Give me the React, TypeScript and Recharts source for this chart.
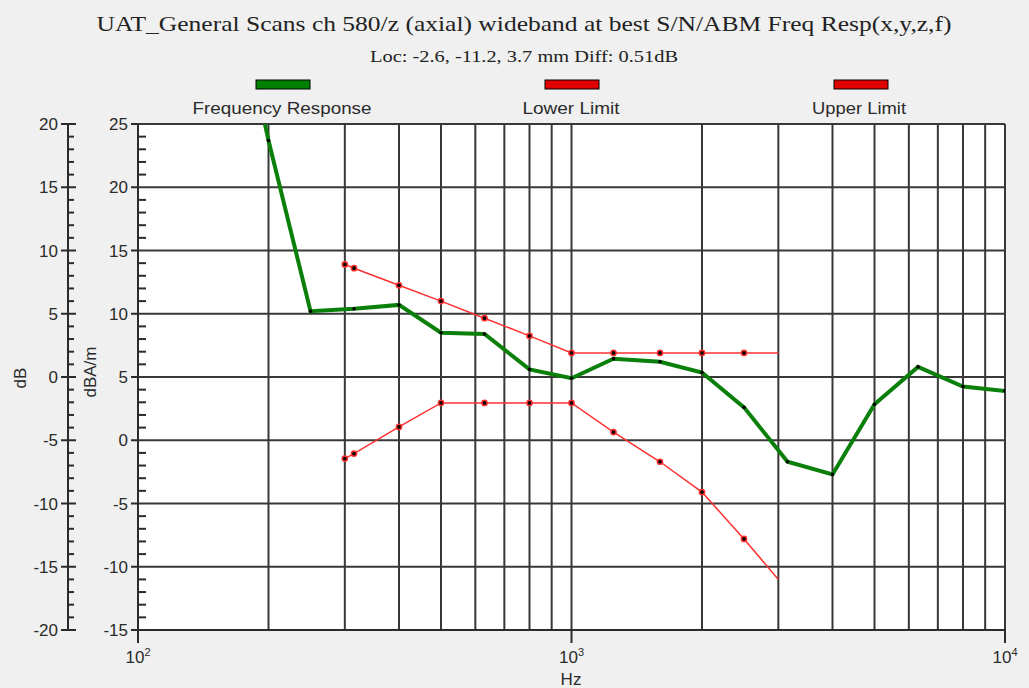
import React from 'react';
import { LineChart, Line, XAxis, YAxis, CartesianGrid, ReferenceLine } from 'recharts';

// frequency response (dBA/m) at 1/3 octave points
const responseFreqs = [160, 200, 250, 315, 400, 500, 630, 800, 1000, 1250, 1600, 2000, 2500, 3150, 4000, 5000, 6300, 8000, 10000];
const responseLevels = [39, 23.7, 10.2, 10.4, 10.7, 8.5, 8.4, 5.6, 4.9, 6.45, 6.2, 5.35, 2.6, -1.7, -2.7, 2.85, 5.8, 4.25, 3.9];

// limit masks
const limitFreqs = [300, 315, 400, 500, 630, 800, 1000, 1250, 1600, 2000, 2500, 3000];
const lowerLimit = [-1.45, -1.05, 1.05, 2.95, 2.95, 2.95, 2.95, 0.65, -1.7, -4.1, -7.8, -11.0];
const upperLimit = [13.9, 13.6, 12.25, 11.0, 9.65, 8.25, 6.9, 6.9, 6.9, 6.9, 6.9, 6.9];

// axes
const hzTicks = [100, 1000, 10000];
const hzGrid = [200, 300, 400, 500, 600, 700, 800, 900, 1000, 2000, 3000, 4000, 5000, 6000, 7000, 8000, 9000, 10000];
const dbaGrid = [-10, -5, 0, 5, 10, 15, 20, 25];
const dbaTicks = Array.from({ length: 41 }, (_, i) => i - 15);
const dbTicks = Array.from({ length: 41 }, (_, i) => i - 20);

const responseData = responseFreqs.map((f, i) => ({ f, v: responseLevels[i] }));
const lowerData = limitFreqs.map((f, i) => ({ f, v: lowerLimit[i] }));
const upperData = limitFreqs.map((f, i) => ({ f, v: upperLimit[i] }));

const INK = '#2b2b2b';
const GRID = '#383838';
const SANS = '"Liberation Sans", Arial, sans-serif';
const SERIF = '"Liberation Serif", "Times New Roman", serif';

const InnerTick = (props: any) => {
  const { x, y, payload } = props;
  const v = payload.value;
  const major = v % 5 === 0;
  return (
    <g>
      {major ? (
        <line x1={x - 7} x2={x} y1={y} y2={y} stroke={INK} strokeWidth={2} />
      ) : (
        <line x1={x} x2={x + 8} y1={y} y2={y} stroke={INK} strokeWidth={2} />
      )}
      {major && (
        <text x={x - 10} y={y + 6} textAnchor="end" fontFamily={SANS} fontSize={17} fill={INK}>
          {v}
        </text>
      )}
    </g>
  );
};

const OuterTick = (props: any) => {
  const { x, y, payload } = props;
  const v = payload.value;
  const major = v % 5 === 0;
  return (
    <g>
      {major ? (
        <line x1={x - 7} x2={x + 8} y1={y} y2={y} stroke={INK} strokeWidth={2} />
      ) : (
        <line x1={x} x2={x + 6} y1={y} y2={y} stroke={INK} strokeWidth={2} />
      )}
      {major && (
        <text x={x - 10} y={y + 6} textAnchor="end" fontFamily={SANS} fontSize={17} fill={INK}>
          {v}
        </text>
      )}
    </g>
  );
};

const HzTick = (props: any) => {
  const { x, y, payload } = props;
  const exp = Math.round(Math.log10(payload.value));
  return (
    <g>
      <line x1={x} x2={x} y1={y} y2={y + 13} stroke={INK} strokeWidth={2} />
      <text x={x} y={y + 33} textAnchor="middle" fontFamily={SANS} fontSize={17} fill={INK}>
        <tspan>10</tspan>
        <tspan dy={-7} fontSize={11}>{exp}</tspan>
      </text>
    </g>
  );
};

const limitDot = (p: any) =>
  p.index === limitFreqs.length - 1 ? (
    <g key={`d-${p.index}`} />
  ) : (
    <circle key={`d-${p.index}`} cx={p.cx} cy={p.cy} r={2.6} fill="#000" stroke="#ff3030" strokeWidth={1.5} />
  );

export default function App() {
  return (
    <div style={{ position: 'absolute', left: 0, top: 0, width: 1029, height: 688, background: '#f0f0f0' }}>
      <LineChart width={1029} height={688} margin={{ top: 124, right: 24, bottom: 18, left: 8 }}>
        <CartesianGrid fill="#ffffff" horizontal={false} vertical={false} stroke="none" />
        <XAxis
          dataKey="f"
          type="number"
          scale="log"
          domain={[100, 10000]}
          allowDataOverflow
          ticks={hzTicks}
          interval={0}
          height={40}
          tickSize={0}
          tickMargin={0}
          tick={<HzTick />}
          axisLine={{ stroke: INK, strokeWidth: 2 }}
        />
        <YAxis
          yAxisId="inner"
          type="number"
          domain={[-15, 25]}
          allowDataOverflow
          ticks={dbaTicks}
          interval={0}
          width={70}
          tickSize={0}
          tickMargin={0}
          tick={<InnerTick />}
          axisLine={{ stroke: INK, strokeWidth: 2 }}
        />
        <YAxis
          yAxisId="outer"
          type="number"
          domain={[-20, 20]}
          allowDataOverflow
          ticks={dbTicks}
          interval={0}
          width={60}
          tickSize={0}
          tickMargin={0}
          tick={<OuterTick />}
          axisLine={{ stroke: INK, strokeWidth: 2 }}
        />
        {hzGrid.map((f) => (
          <ReferenceLine key={`x${f}`} x={f} yAxisId="inner" stroke={GRID} strokeWidth={2} />
        ))}
        {dbaGrid.map((v) => (
          <ReferenceLine key={`y${v}`} y={v} yAxisId="inner" stroke={GRID} strokeWidth={2} />
        ))}
        <Line
          data={lowerData}
          dataKey="v"
          yAxisId="inner"
          type="linear"
          stroke="#ff3030"
          strokeWidth={1.5}
          dot={limitDot}
          isAnimationActive={false}
        />
        <Line
          data={upperData}
          dataKey="v"
          yAxisId="inner"
          type="linear"
          stroke="#ff3030"
          strokeWidth={1.5}
          dot={limitDot}
          isAnimationActive={false}
        />
        <Line
          data={responseData}
          dataKey="v"
          yAxisId="inner"
          type="linear"
          stroke="#0a800a"
          strokeWidth={4}
          dot={{ r: 1.8, fill: '#000', stroke: 'none' }}
          isAnimationActive={false}
        />
      </LineChart>
      <svg width={1029} height={688} style={{ position: 'absolute', left: 0, top: 0, pointerEvents: 'none' }}>
        <text x={524} y={31} textAnchor="middle" fontFamily={SERIF} fontSize={22} fill="#222" textLength={855} lengthAdjust="spacingAndGlyphs">
          UAT_General Scans ch 580/z (axial) wideband at best S/N/ABM Freq Resp(x,y,z,f)
        </text>
        <text x={524} y={62} textAnchor="middle" fontFamily={SERIF} fontSize={16} fill="#222" textLength={308} lengthAdjust="spacingAndGlyphs">
          Loc: -2.6, -11.2, 3.7 mm Diff: 0.51dB
        </text>
        <rect x={256} y={80} width={54} height={9} fill="#008000" stroke="#000" strokeWidth={1} />
        <rect x={545} y={80} width={54} height={9} fill="#e00000" stroke="#000" strokeWidth={1} />
        <rect x={834} y={80} width={54} height={9} fill="#e00000" stroke="#000" strokeWidth={1} />
        <text x={282} y={114} textAnchor="middle" fontFamily={SANS} fontSize={17} fill={INK} textLength={179} lengthAdjust="spacingAndGlyphs">
          Frequency Response
        </text>
        <text x={571} y={114} textAnchor="middle" fontFamily={SANS} fontSize={17} fill={INK} textLength={97} lengthAdjust="spacingAndGlyphs">
          Lower Limit
        </text>
        <text x={859} y={114} textAnchor="middle" fontFamily={SANS} fontSize={17} fill={INK} textLength={94} lengthAdjust="spacingAndGlyphs">
          Upper Limit
        </text>
        <text transform="translate(26,378) rotate(-90)" textAnchor="middle" fontFamily={SANS} fontSize={17} fill={INK}>
          dB
        </text>
        <text transform="translate(96,372) rotate(-90)" textAnchor="middle" fontFamily={SANS} fontSize={17} fill={INK}>
          dBA/m
        </text>
        <text x={571} y={685} textAnchor="middle" fontFamily={SANS} fontSize={17} fill={INK}>
          Hz
        </text>
      </svg>
    </div>
  );
}
